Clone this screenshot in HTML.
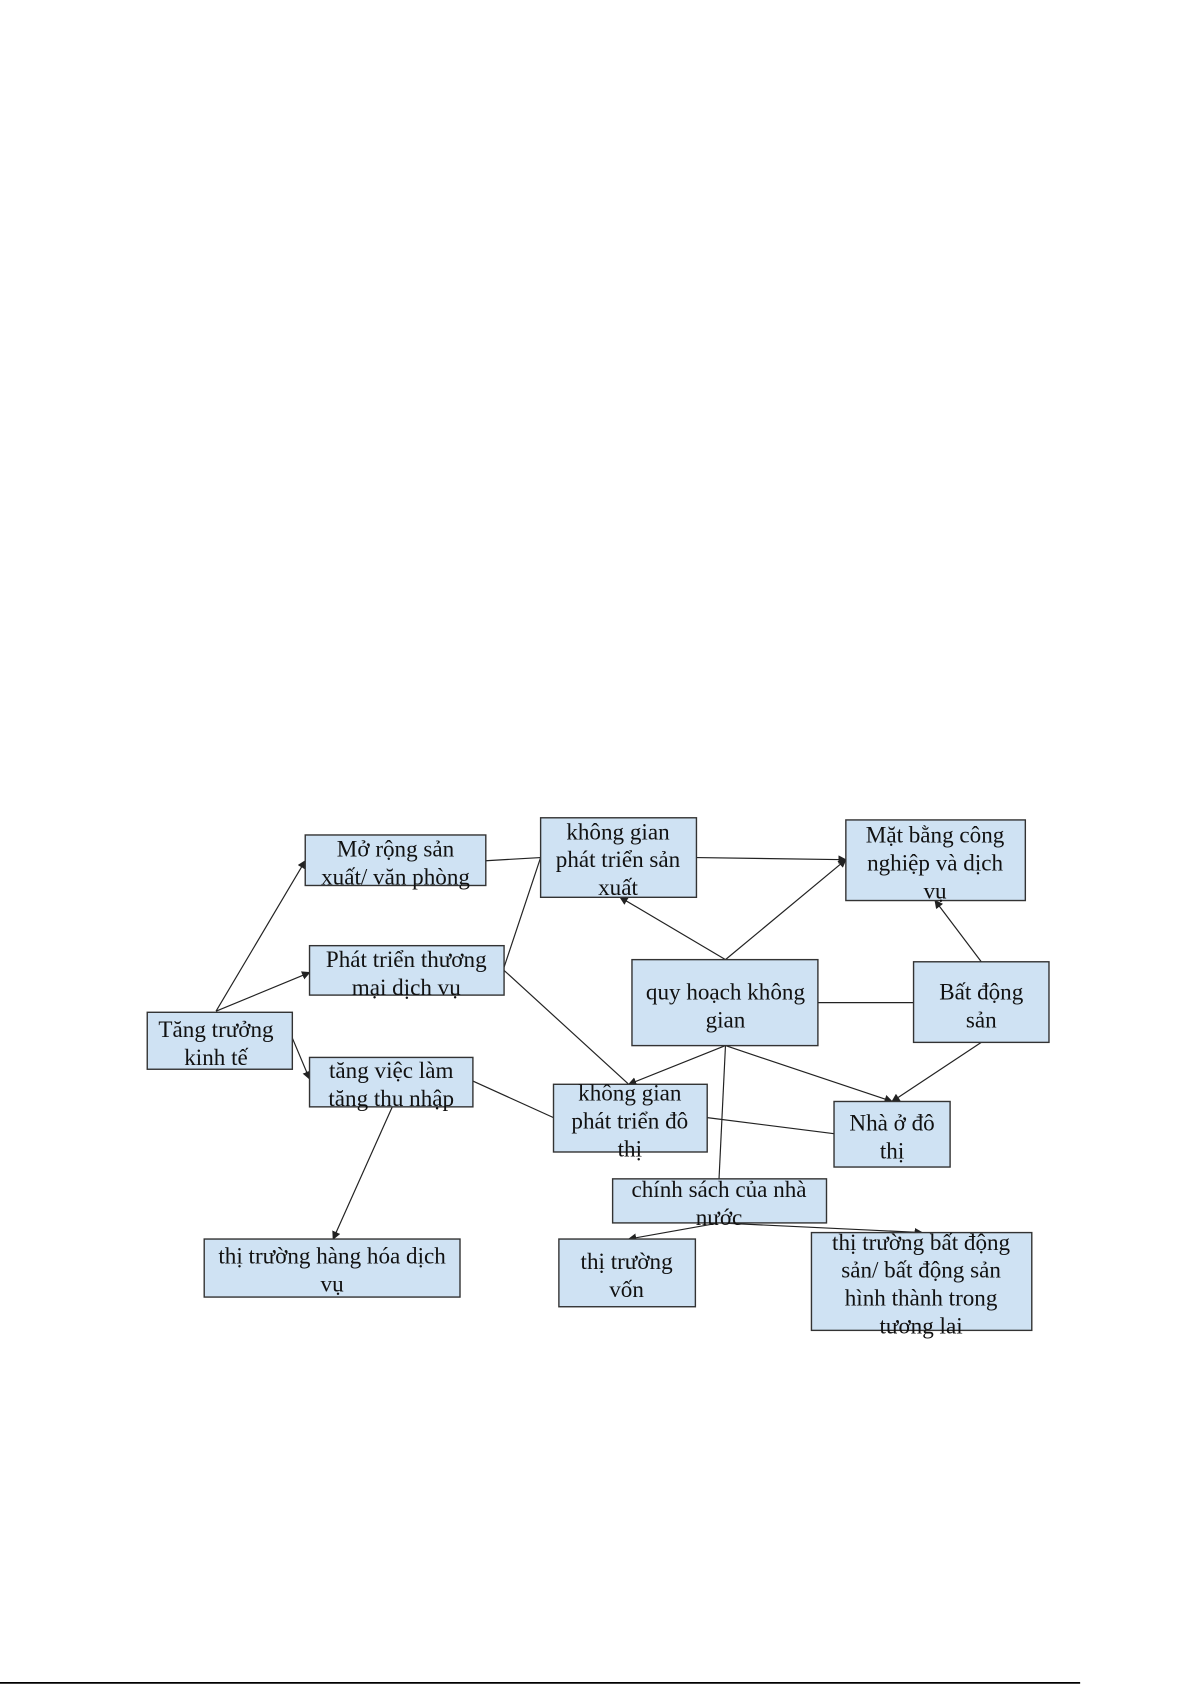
<!DOCTYPE html>
<html><head><meta charset="utf-8"><style>
html,body{margin:0;padding:0;background:#fff;}
svg{display:block;}
text{font-family:"Liberation Serif",serif;font-size:21.5px;fill:#111;text-anchor:middle;}
rect{fill:#cfe2f3;stroke:#333;stroke-width:1.3;}
line{stroke:#222;stroke-width:1.1;}
</style></head><body>
<svg width="1193" height="1685" viewBox="0 0 1110 1568" preserveAspectRatio="none">
<defs><marker id="a" markerWidth="8" markerHeight="8" refX="7" refY="4" orient="auto" markerUnits="userSpaceOnUse"><path d="M0,0 L8,4 L0,8 z" fill="#222"/></marker></defs>
<line x1="201" y1="941" x2="284" y2="801" marker-end="url(#a)"/>
<line x1="201" y1="941" x2="288" y2="905" marker-end="url(#a)"/>
<line x1="272" y1="966" x2="288" y2="1004" marker-end="url(#a)"/>
<line x1="452" y1="801" x2="503" y2="798"/>
<line x1="469" y1="900" x2="503" y2="798"/>
<line x1="469" y1="903" x2="585" y2="1009"/>
<line x1="648" y1="798" x2="787" y2="800" marker-end="url(#a)"/>
<line x1="675" y1="893" x2="577" y2="835" marker-end="url(#a)"/>
<line x1="675" y1="893" x2="787" y2="800" marker-end="url(#a)"/>
<line x1="761" y1="933" x2="850" y2="933"/>
<line x1="913" y1="895" x2="870" y2="838" marker-end="url(#a)"/>
<line x1="913" y1="970" x2="830" y2="1025" marker-end="url(#a)"/>
<line x1="675" y1="973" x2="585" y2="1009" marker-end="url(#a)"/>
<line x1="675" y1="973" x2="830" y2="1025" marker-end="url(#a)"/>
<line x1="675" y1="973" x2="669" y2="1097"/>
<line x1="440" y1="1006" x2="515" y2="1040"/>
<line x1="658" y1="1040" x2="776" y2="1055"/>
<line x1="365" y1="1030" x2="310" y2="1153" marker-end="url(#a)"/>
<line x1="669" y1="1138" x2="585" y2="1153" marker-end="url(#a)"/>
<line x1="669" y1="1138" x2="858" y2="1147" marker-end="url(#a)"/>
<rect x="284" y="777" width="168" height="47"/>
<text x="368" y="797">Mở rộng sản</text><text x="368" y="823">xuất/ văn phòng</text>
<rect x="503" y="761" width="145" height="74"/>
<text x="575" y="781">không gian</text><text x="575" y="807">phát triển sản</text><text x="575" y="833">xuất</text>
<rect x="787" y="763" width="167" height="75"/>
<text x="870" y="784">Mặt bằng công</text><text x="870" y="810">nghiệp và dịch</text><text x="870" y="836">vụ</text>
<rect x="288" y="880" width="181" height="46"/>
<text x="378" y="900">Phát triển thương</text><text x="378" y="926">mại dịch vụ</text>
<rect x="137" y="942" width="135" height="53"/>
<text x="201" y="965">Tăng trưởng</text><text x="201" y="991">kinh tế</text>
<rect x="588" y="893" width="173" height="80"/>
<text x="675" y="930">quy hoạch không</text><text x="675" y="956">gian</text>
<rect x="850" y="895" width="126" height="75"/>
<text x="913" y="930">Bất động</text><text x="913" y="956">sản</text>
<rect x="288" y="984" width="152" height="46"/>
<text x="364" y="1003">tăng việc làm</text><text x="364" y="1029">tăng thu nhập</text>
<rect x="515" y="1009" width="143" height="63"/>
<text x="586" y="1024">không gian</text><text x="586" y="1050">phát triển đô</text><text x="586" y="1076">thị</text>
<rect x="776" y="1025" width="108" height="61"/>
<text x="830" y="1052">Nhà ở đô</text><text x="830" y="1078">thị</text>
<rect x="570" y="1097" width="199" height="41"/>
<text x="669" y="1114">chính sách của nhà</text><text x="669" y="1140">nước</text>
<rect x="190" y="1153" width="238" height="54"/>
<text x="309" y="1176">thị trường hàng hóa dịch</text><text x="309" y="1202">vụ</text>
<rect x="520" y="1153" width="127" height="63"/>
<text x="583" y="1181">thị trường</text><text x="583" y="1207">vốn</text>
<rect x="755" y="1147" width="205" height="91"/>
<text x="857" y="1163">thị trường bất động</text><text x="857" y="1189">sản/ bất động sản</text><text x="857" y="1215">hình thành trong</text><text x="857" y="1241">tương lai</text>
<line x1="0" y1="1566" x2="1005" y2="1566" style="stroke:#000;stroke-width:1.6"/>
</svg>
</body></html>
